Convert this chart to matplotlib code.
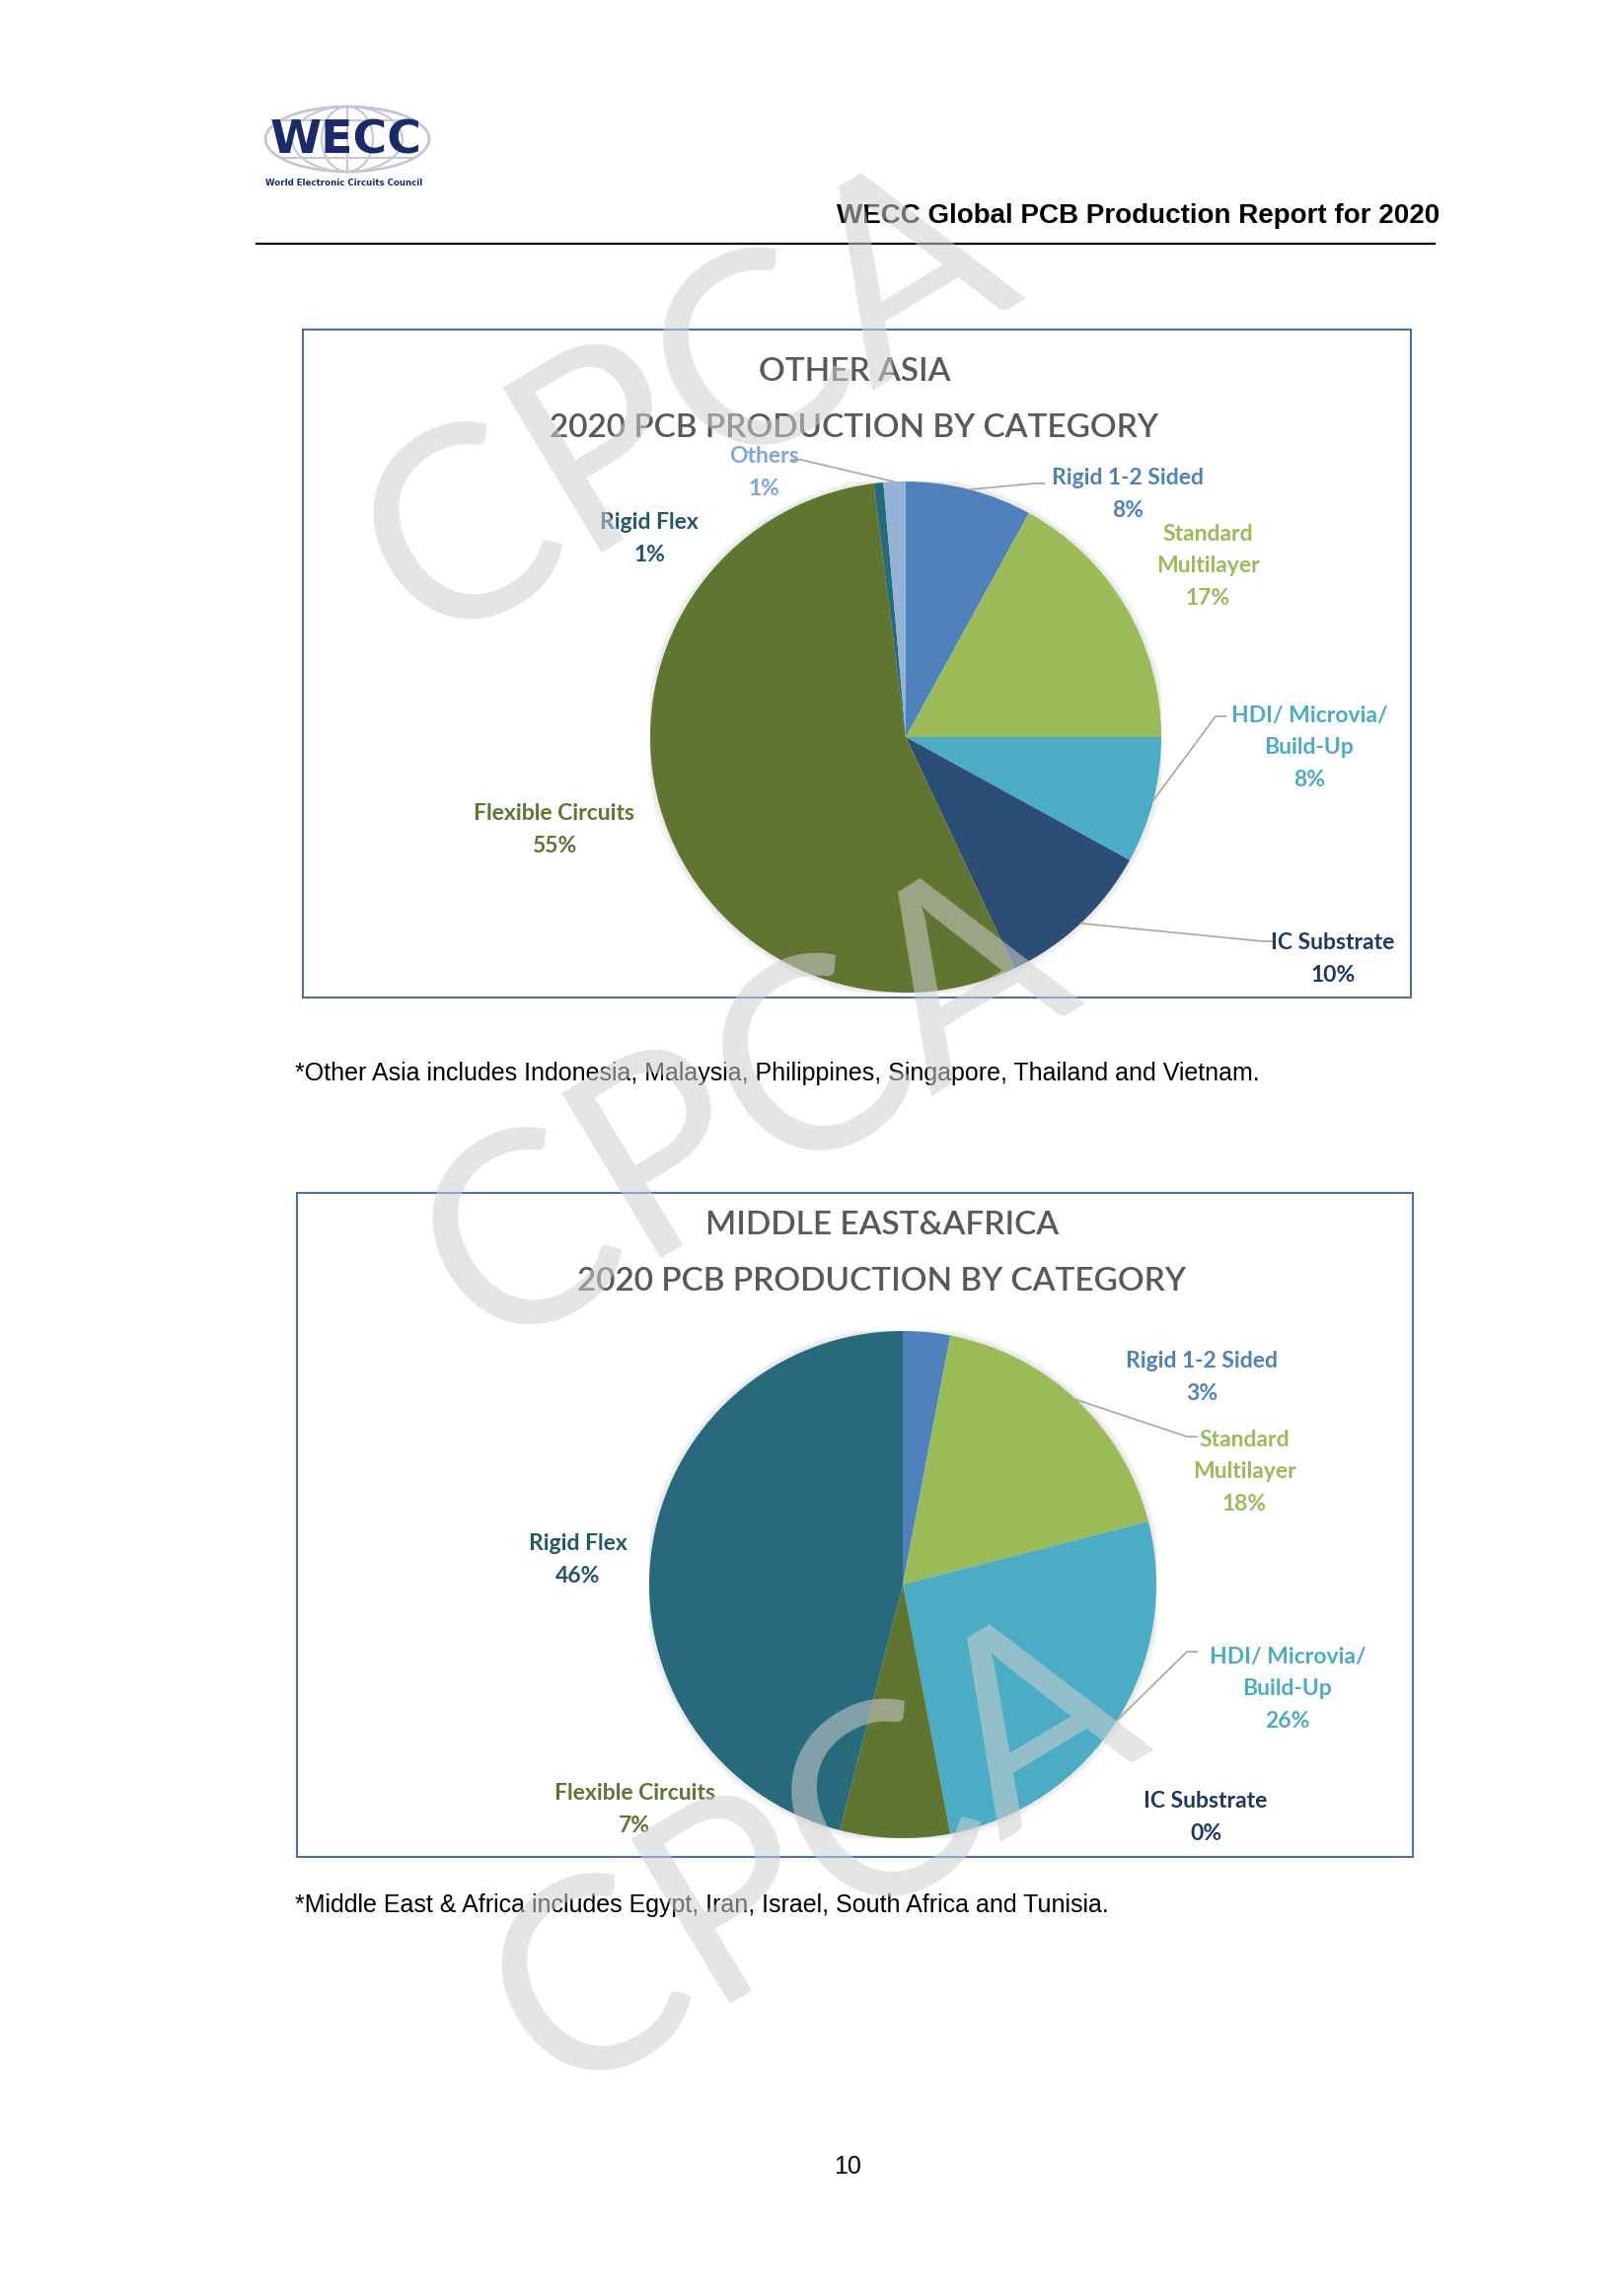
import matplotlib
matplotlib.use('Agg')
import matplotlib.pyplot as plt
import numpy as np
from matplotlib.patches import Rectangle, Ellipse, Circle

W, H = 1646, 2327
CALIBRI = ['Lato', 'DejaVu Sans']
ARIAL = ['Liberation Sans', 'DejaVu Sans']

categories_asia = ['Rigid 1-2 Sided', 'Standard\nMultilayer', 'HDI/ Microvia/\nBuild-Up',
                   'IC Substrate', 'Flexible Circuits', 'Rigid Flex', 'Others']
share_asia = [8, 17, 8, 10, 55, 0.6, 1.4]

categories_mea = ['Rigid 1-2 Sided', 'Standard\nMultilayer', 'HDI/ Microvia/\nBuild-Up',
                  'IC Substrate', 'Flexible Circuits', 'Rigid Flex']
share_mea = [3, 18, 26, 0, 7, 46]

slice_colors = {'Rigid 1-2 Sided': '#4F81BD', 'Standard\nMultilayer': '#9BBB59',
                'HDI/ Microvia/\nBuild-Up': '#4BACC6', 'IC Substrate': '#2C4D75',
                'Flexible Circuits': '#5F7530', 'Rigid Flex': '#276A7C', 'Others': '#95B3D7'}
label_colors = {'Rigid 1-2 Sided': '#4F81BD', 'Standard\nMultilayer': '#9BBB59',
                'HDI/ Microvia/\nBuild-Up': '#4BACC6', 'IC Substrate': '#1F3864',
                'Flexible Circuits': '#5F7530', 'Rigid Flex': '#215968', 'Others': '#7EA6DC'}

# label block centres (page px) and leader-line ends (page px or None)
layout_asia = {'Rigid 1-2 Sided': ((1143, 501), (1048, 490)),
               'Standard\nMultilayer': ((1224, 574), None),
               'HDI/ Microvia/\nBuild-Up': ((1327, 758), (1232, 726)),
               'IC Substrate': ((1351, 972), (1280, 954)),
               'Flexible Circuits': ((562, 841), None),
               'Rigid Flex': ((658, 546), None),
               'Others': ((775, 479), (812, 466))}
layout_mea = {'Rigid 1-2 Sided': ((1218, 1396), None),
              'Standard\nMultilayer': ((1261, 1492), (1203, 1456)),
              'HDI/ Microvia/\nBuild-Up': ((1305, 1712), (1203, 1674)),
              'IC Substrate': ((1222, 1842), None),
              'Flexible Circuits': ((643, 1834), None),
              'Rigid Flex': ((586, 1581), None)}

fig = plt.figure(figsize=(W / 100, H / 100), dpi=100)
fig.patch.set_facecolor('white')

page = fig.add_axes([0, 0, 1, 1], zorder=0)
page.set_xlim(0, W)
page.set_ylim(H, 0)
page.axis('off')


def pie_chart(cx, cy, r, cats, vals, layout):
    ax = fig.add_axes([(cx - r) / W, (H - cy - r) / H, 2 * r / W, 2 * r / H], zorder=1)
    ax.patch.set_visible(False)
    # soft halo like the Excel soft-edge effect
    for i in range(6):
        ax.add_patch(Circle((0, 0), 1 + 0.005 * i, color='black', alpha=0.018, lw=0, zorder=0))
    wedges, _ = ax.pie(vals, colors=[slice_colors[c] for c in cats], startangle=90,
                       counterclock=False, radius=1, wedgeprops={'linewidth': 0})
    ax.set_xlim(-1, 1)
    ax.set_ylim(-1, 1)
    ax.set_aspect('equal')
    ax.axis('off')
    for w, cat, v in zip(wedges, cats, vals):
        (lx, ly), lead = layout[cat]
        tx, ty = (lx - cx) / r, (cy - ly) / r
        ax.text(tx, ty, f'{cat}\n{round(v)}%', ha='center', va='center',
                color=label_colors[cat], fontsize=16.5, fontweight='bold',
                family=CALIBRI, linespacing=1.65, clip_on=False)
        if lead is not None:
            mid = np.deg2rad((w.theta1 + w.theta2) / 2)
            ex, ey = (lead[0] - cx) / r, (cy - lead[1]) / r
            ax.plot([np.cos(mid), ex, ex + 0.04 * np.sign(ex - np.cos(mid))],
                    [np.sin(mid), ey, ey], color='#A6A6A6', lw=1.2, clip_on=False)
    return ax


# ---- header ----
page.text(1459, 219, 'WECC Global PCB Production Report for 2020', ha='right', va='center',
          fontsize=20, fontweight='bold', family=ARIAL, color='black')
page.plot([260, 1454], [247, 247], color='black', lw=1.6)

# logo
gc = '#C3C7D2'
page.add_patch(Ellipse((352, 141), 166, 66, fill=False, ec=gc, lw=2))
for wd in (112, 52):
    page.add_patch(Ellipse((352, 141), wd, 66, fill=False, ec=gc, lw=1.5))
page.plot([352, 352], [108, 174], color=gc, lw=1.5)
for yy in (122, 160):
    half = 83 * np.sqrt(1 - ((yy - 141) / 33) ** 2)
    page.plot([352 - half, 352 + half], [yy, yy], color=gc, lw=1.5)
page.text(351, 143, 'WECC', ha='center', va='center', fontsize=34, fontweight='bold',
          family='DejaVu Sans', color='#1B2A6B')
page.text(349, 186, 'World Electronic Circuits Council', ha='center', va='center',
          fontsize=6.2, fontweight='bold', family='DejaVu Sans', color='#1B2A6B')

# ---- chart 1 ----
page.add_patch(Rectangle((307, 334), 1123, 677, fill=False, ec='#4A6FB5', lw=1.5))
page.text(866, 377, 'OTHER ASIA', ha='center', va='center', fontsize=24, fontweight='semibold',
          family=CALIBRI, color='#595959')
page.text(866, 434, '2020 PCB PRODUCTION BY CATEGORY', ha='center', va='center', fontsize=24,
          fontweight='semibold', family=CALIBRI, color='#595959')
pie_chart(918, 747, 259, categories_asia, share_asia, layout_asia)
page.text(299, 1088, '*Other Asia includes Indonesia, Malaysia, Philippines, Singapore, Thailand and Vietnam.',
          ha='left', va='center', fontsize=18, family=ARIAL, color='black')

# ---- chart 2 ----
page.add_patch(Rectangle((301, 1209), 1131, 673, fill=False, ec='#4A6FB5', lw=1.5))
page.text(894, 1242, 'MIDDLE EAST&AFRICA', ha='center', va='center', fontsize=24,
          fontweight='semibold', family=CALIBRI, color='#595959')
page.text(894, 1299, '2020 PCB PRODUCTION BY CATEGORY', ha='center', va='center', fontsize=24,
          fontweight='semibold', family=CALIBRI, color='#595959')
pie_chart(915, 1606, 257, categories_mea, share_mea, layout_mea)
page.text(299, 1931, '*Middle East & Africa includes Egypt, Iran, Israel, South Africa and Tunisia.',
          ha='left', va='center', fontsize=18, family=ARIAL, color='black')

page.text(859, 2196, '10', ha='center', va='center', fontsize=18, family=ARIAL, color='black')

# ---- CPCA watermark ----
wm = fig.add_axes([0, 0, 1, 1], zorder=5)
wm.set_xlim(0, W)
wm.set_ylim(H, 0)
wm.axis('off')
wm.patch.set_visible(False)
for x, y in [(696, 411), (756, 1126), (826, 1882)]:
    wm.text(x, y, 'CPCA', ha='center', va='center', rotation=31, rotation_mode='anchor',
            fontsize=195, family=CALIBRI, color='#CFCFCF', alpha=0.55)

fig.savefig('out.png', dpi=100)
